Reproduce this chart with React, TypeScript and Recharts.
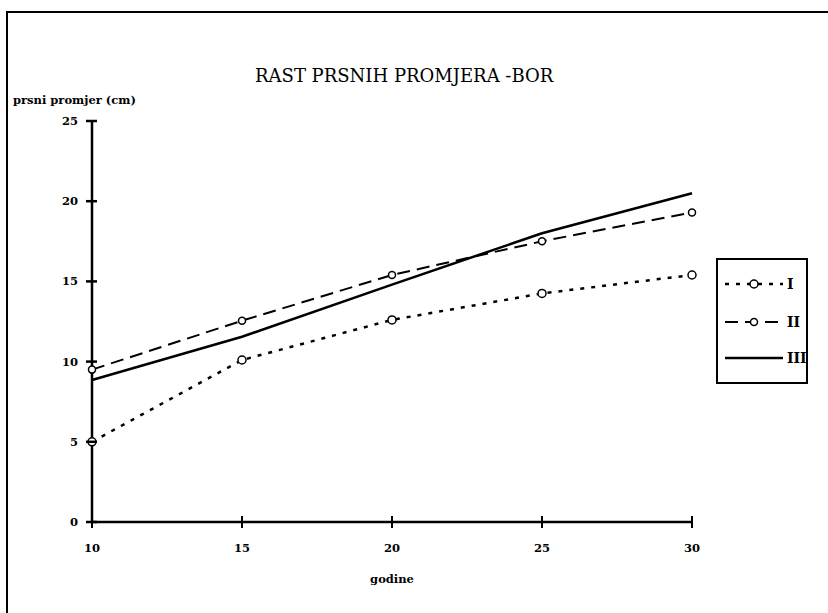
import React from 'react';
import { LineChart, Line, XAxis, YAxis } from 'recharts';

const years = [10, 15, 20, 25, 30];
const seriesI = [5.0, 10.1, 12.6, 14.25, 15.4];
const seriesII = [9.5, 12.55, 15.4, 17.5, 19.3];
const seriesIII = [8.85, 11.55, 14.8, 18.0, 20.5];
const xTicks = [10, 15, 20, 25, 30];
const yTicks = [0, 5, 10, 15, 20, 25];
const seriesNames = ['I', 'II', 'III'];

const data = years.map((g, i) => ({ godine: g, I: seriesI[i], II: seriesII[i], III: seriesIII[i] }));

const FONT = '"DejaVu Serif", serif';
const Y_MARGIN = 14;
const X_MARGIN = 20;

const YTick = (props: any) => {
  const { x, y, payload } = props;
  const ax = x + Y_MARGIN;
  return (
    <g>
      <line x1={ax - 6} x2={ax + 5} y1={y} y2={y} stroke="#000" strokeWidth={2.5} />
      <text x={x} y={y} dy={4} textAnchor="end" fontFamily={FONT} fontWeight="bold" fontSize={11.5} fill="#000">
        {payload.value}
      </text>
    </g>
  );
};

const XTick = (props: any) => {
  const { x, y, payload } = props;
  const ay = y - X_MARGIN;
  return (
    <g>
      <line x1={x} x2={x} y1={ay - 6} y2={ay + 6} stroke="#000" strokeWidth={2} />
      <text x={x} y={y} dy={10} textAnchor="middle" fontFamily={FONT} fontWeight="bold" fontSize={11.5} fill="#000">
        {payload.value}
      </text>
    </g>
  );
};

const styles: Record<string, { dash?: string; width: number; marker: boolean; r: number }> = {
  I: { dash: '4 7', width: 2.5, marker: true, r: 4 },
  II: { dash: '13 7', width: 2, marker: true, r: 3.5 },
  III: { dash: undefined, width: 2.5, marker: false, r: 0 },
};

const LegendBox = () => (
  <div
    style={{
      position: 'absolute',
      left: 716,
      top: 258,
      width: 92,
      height: 126,
      border: '2px solid #000',
      background: '#fff',
      boxSizing: 'border-box',
    }}
  >
    {seriesNames.map((n, i) => {
      const s = styles[n];
      const top = [15, 53, 89][i];
      return (
        <div key={n} style={{ position: 'absolute', left: 5, top, height: 18, width: 84 }}>
          <svg width={62} height={18} style={{ position: 'absolute', left: 0, top: 0 }}>
            <line x1={2} x2={60} y1={9} y2={9} stroke="#000" strokeWidth={s.width} strokeDasharray={s.dash} />
            {s.marker && <circle cx={31} cy={9} r={s.r} fill="#fff" stroke="#000" strokeWidth={1.5} />}
          </svg>
          <span
            style={{
              position: 'absolute',
              left: 64,
              top: 0,
              fontFamily: FONT,
              fontWeight: 'bold',
              fontSize: 14,
              lineHeight: '18px',
            }}
          >
            {n}
          </span>
        </div>
      );
    })}
  </div>
);

export default function App() {
  return (
    <div style={{ position: 'absolute', left: 0, top: 0, width: 828, height: 613, background: '#fff', overflow: 'hidden' }}>
      <div style={{ position: 'absolute', left: 6, top: 11, width: 830, height: 610, borderLeft: '2px solid #000', borderTop: '2px solid #000' }} />
      <div
        style={{
          position: 'absolute',
          left: 255,
          top: 64,
          fontFamily: FONT,
          fontSize: 18,
          lineHeight: '24px',
          whiteSpace: 'nowrap',
        }}
      >
        RAST PRSNIH PROMJERA -BOR
      </div>
      <div style={{ position: 'absolute', left: 13, top: 93, fontFamily: FONT, fontWeight: 'bold', fontSize: 11.5, whiteSpace: 'nowrap' }}>
        prsni promjer (cm)
      </div>
      <div
        style={{
          position: 'absolute',
          left: 342,
          width: 100,
          top: 572,
          textAlign: 'center',
          fontFamily: FONT,
          fontWeight: 'bold',
          fontSize: 11.5,
        }}
      >
        godine
      </div>
      <div style={{ position: 'absolute', left: 0, top: 0 }}>
        <LineChart width={828} height={613} data={data} margin={{ top: 121, right: 136, left: 52, bottom: 61 }}>
          <XAxis
            dataKey="godine"
            type="number"
            domain={[10, 30]}
            ticks={xTicks}
            tickSize={0}
            tickMargin={X_MARGIN}
            tick={<XTick />}
            axisLine={{ stroke: '#000', strokeWidth: 2.5 }}
            tickLine={false}
            height={30}
            interval={0}
          />
          <YAxis
            type="number"
            domain={[0, 25]}
            ticks={yTicks}
            tickSize={0}
            tickMargin={Y_MARGIN}
            tick={<YTick />}
            axisLine={{ stroke: '#000', strokeWidth: 2.5 }}
            tickLine={false}
            width={40}
            interval={0}
          />
          {seriesNames.map((n) => {
            const s = styles[n];
            return (
              <Line
                key={n}
                dataKey={n}
                type="linear"
                stroke="#000"
                strokeWidth={s.width}
                strokeDasharray={s.dash}
                dot={s.marker ? { r: s.r, fill: '#fff', stroke: '#000', strokeWidth: 1.5, strokeDasharray: '' } : false}
                activeDot={false}
                isAnimationActive={false}
              />
            );
          })}
        </LineChart>
      </div>
      <LegendBox />
    </div>
  );
}
